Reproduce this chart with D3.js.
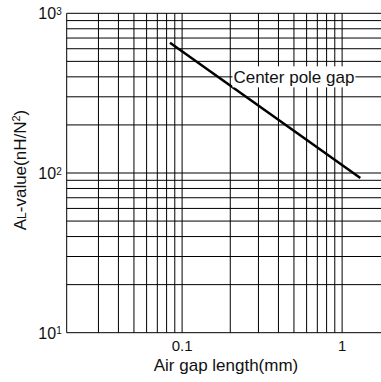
<!DOCTYPE html>
<html>
<head>
<meta charset="utf-8">
<script src="https://cdn.jsdelivr.net/npm/d3@7"></script>
<style>
    body { margin: 0; background: #fff; }
    text { font-family: "Liberation Sans", Arial, sans-serif; fill: #111; }
</style>
</head>
<body>
<div id="chart"></div>
<script>
// values
const xTickValues = [0.1, 1];
const yTickValues = [10, 100, 1000];
const gapLength = [0.084, 1.3];     // mm
const alValue = [655, 93];          // nH/N^2
const seriesLabel = "Center pole gap";
const labelAt = [0.5, 400];

const width = 381, height = 382;

let svg = d3.select("#chart").append("svg")
    .attr("width", width)
    .attr("height", height);

let x = d3.scaleLog()
    .domain([0.019, 1.75])
    .range([66.7, 381]);

let y = d3.scaleLog()
    .domain([10, 1000])
    .range([332.7, 13.3]);

// grid
let grid = svg.append("g")
    .attr("stroke", "#000")
    .attr("stroke-width", 1);

grid.selectAll(".hgrid")
    .data(y.ticks())
    .enter().append("line")
    .attr("class", "hgrid")
    .attr("x1", x.range()[0])
    .attr("x2", x.range()[1])
    .attr("y1", d => y(d))
    .attr("y2", d => y(d));

// skip ticks that would sit on the left frame
grid.selectAll(".vgrid")
    .data(x.ticks().filter(d => x(d) - x.range()[0] > 5))
    .enter().append("line")
    .attr("class", "vgrid")
    .attr("x1", d => x(d))
    .attr("x2", d => x(d))
    .attr("y1", y.range()[0])
    .attr("y2", y.range()[1]);

// frame (left + bottom)
grid.append("line")
    .attr("x1", x.range()[0]).attr("x2", x.range()[0])
    .attr("y1", y.range()[0]).attr("y2", y.range()[1]);

// series line
let line = d3.line()
    .x(d => x(d[0]))
    .y(d => y(d[1]));

svg.append("path")
    .datum(d3.zip(gapLength, alValue))
    .attr("d", line)
    .attr("fill", "none")
    .attr("stroke", "#000")
    .attr("stroke-width", 2.5);

// label with white knock-out box
let lbl = svg.append("g");
let lblText = lbl.append("text")
    .attr("x", x(labelAt[0]))
    .attr("y", y(labelAt[1]) + 6.5)
    .attr("text-anchor", "middle")
    .style("font-size", "17px")
    .text(seriesLabel);
let bb = lblText.node().getBBox();
lbl.insert("rect", "text")
    .attr("x", bb.x - 1)
    .attr("y", bb.y - 2)
    .attr("width", bb.width + 2)
    .attr("height", bb.height + 2)
    .attr("fill", "#fff");

// y tick labels: 10^n
let yLabels = svg.selectAll(".ytick")
    .data(yTickValues)
    .enter().append("text")
    .attr("class", "ytick")
    .attr("x", 61.7)
    .attr("y", d => y(d) + 6)
    .attr("text-anchor", "end")
    .style("font-size", "16px");
yLabels.append("tspan").text("10");
yLabels.append("tspan")
    .attr("dy", -4.5)
    .style("font-size", "10px")
    .text(d => Math.round(Math.log10(d)));

// x tick labels
svg.selectAll(".xtick")
    .data(xTickValues)
    .enter().append("text")
    .attr("class", "xtick")
    .attr("x", d => x(d))
    .attr("y", 351)
    .attr("text-anchor", "middle")
    .style("font-size", "15px")
    .text(d => d);

// axis titles
svg.append("text")
    .attr("x", 226)
    .attr("y", 371)
    .attr("text-anchor", "middle")
    .style("font-size", "17px")
    .text("Air gap length(mm)");

let yTitle = svg.append("text")
    .attr("transform", "translate(26,170) rotate(-90)")
    .attr("text-anchor", "middle")
    .style("font-size", "17px");
yTitle.append("tspan").text("A");
yTitle.append("tspan").style("font-size", "12px").text("L");
yTitle.append("tspan").text("-value(nH/N");
yTitle.append("tspan").attr("dy", -6).style("font-size", "11px").text("2");
yTitle.append("tspan").attr("dy", 6).text(")");
</script>
</body>
</html>
